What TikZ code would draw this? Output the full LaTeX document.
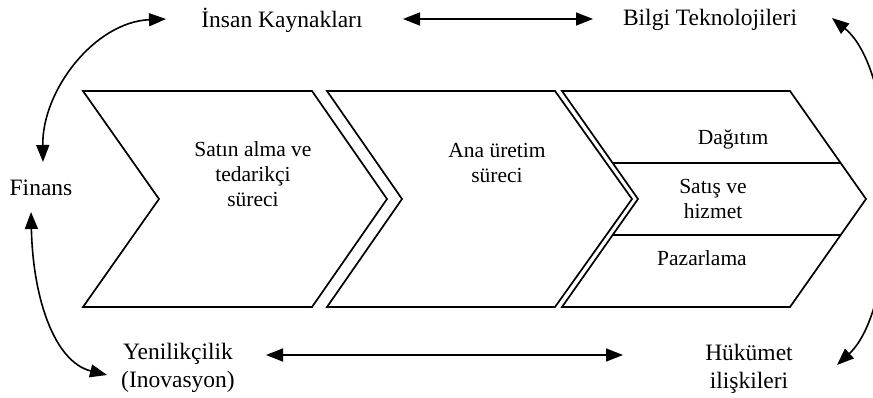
\documentclass[tikz,border=0pt]{standalone}
\usepackage{fontspec}
\setmainfont{Liberation Serif}
\usetikzlibrary{arrows.meta}
\begin{document}
\begin{tikzpicture}[x=1pt,y=-1pt,
  chev/.style={draw=black, line width=1.7pt, line join=miter},
  sepline/.style={draw=black, line width=1.7pt},
  lab/.style={font=\fontsize{23.5}{27.5}\selectfont, align=center, inner sep=0pt},
  inl/.style={font=\fontsize{21.5}{25}\selectfont, align=center, inner sep=0pt},
  conn/.style={line width=1.6pt, {Triangle[length=17pt,width=13pt]}-{Triangle[length=17pt,width=13pt]}}]
\useasboundingbox (0,0) rectangle (873,398);

% chevrons
\draw[chev] (83,91) -- (312,91) -- (387,199) -- (312,307) -- (83,307) -- (159,199) -- cycle;
\draw[chev] (327,91) -- (555,91) -- (632,199) -- (555,307) -- (327,307) -- (402,199) -- cycle;
\draw[chev] (562,91) -- (790,91) -- (866,199) -- (790,307) -- (562,307) -- (638,199) -- cycle;
\draw[sepline] (612.7,163) -- (840.7,163);
\draw[sepline] (612.7,235) -- (840.7,235);

% inner texts
\node[inl] (satin) at (253,174) {Satın alma ve\\tedarikçi\\süreci};
\node[inl] (ana) at (497,163) {Ana üretim\\süreci};
\node[inl] (dag) at (733,139) {Dağıtım};
\node[inl] (satis) at (713,199) {Satış ve\\hizmet};
\node[inl] (paz) at (702,258) {Pazarlama};

% outer labels
\node[lab] (ins) at (282,20) {İnsan Kaynakları};
\node[lab] (bilgi) at (710,20) {Bilgi Teknolojileri};
\node[lab] (fin) at (41,188) {Finans};
\node[lab] (yeni) at (178,368) {Yenilikçilik\\(Inovasyon)};
\node[lab] (huk) at (749,369) {Hükümet\\ilişkileri};

% arrow end points
\coordinate (insL) at (166,19);
\coordinate (insR) at (403,19);
\coordinate (bilL) at (593,19);
\coordinate (bilR) at (832,18);
\coordinate (finT) at (43,162);
\coordinate (finB) at (31,212);
\coordinate (yenL) at (107,375);
\coordinate (yenR) at (266,355);
\coordinate (hukL) at (623,355);
\coordinate (hukR) at (837,365);

% connectors
\draw[conn] (insR) -- (bilL);
\draw[conn] (yenR) -- (hukL);
\draw[conn] (insL) .. controls (95,22) and (42,90) .. (finT);
\draw[conn] (finB) .. controls (33,300) and (55,362) .. (yenL);
\draw[conn] (bilR) .. controls (902,75) and (902,305) .. (hukR);
\end{tikzpicture}
\end{document}
